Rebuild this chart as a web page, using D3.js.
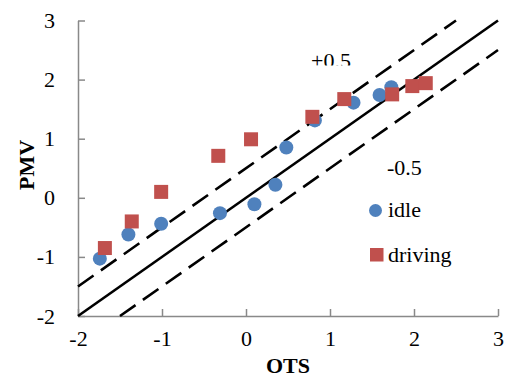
<!DOCTYPE html>
<html><head><meta charset="utf-8">
<script src="https://cdn.jsdelivr.net/npm/d3@7"></script>
<style>body{margin:0;background:#fff}svg{display:block}</style>
</head><body>
<svg id="c" width="507" height="377"></svg>
<script>
const idleX = [-1.74,-1.40,-1.01,-0.31,0.10,0.35,0.48,0.82,1.28,1.59,1.73];
const idleY = [-1.03,-0.62,-0.44,-0.26,-0.11,0.22,0.85,1.31,1.61,1.74,1.87];
const drivingX = [-1.68,-1.36,-1.01,-0.33,0.06,0.79,1.17,1.74,1.98,2.14];
const drivingY = [-0.85,-0.40,0.10,0.71,0.99,1.37,1.67,1.75,1.89,1.94];
const xTicks = [-2,-1,0,1,2,3];
const yTicks = [-2,-1,0,1,2,3];
const refLines = [
  {offset:0, x0:-2, x1:3, dash:null},
  {offset:0.5, x0:-2, x1:2.5, dash:"19,9"},
  {offset:-0.5, x0:-1.5, x1:3, dash:"19,9"}
];
const seriesNames = ["idle","driving"];
const lineLabels = ["+0.5","-0.5"];

const svg = d3.select("#c");
const x = d3.scaleLinear().domain([-2,3]).range([78,498]);
const y = d3.scaleLinear().domain([-2,3]).range([316,20.5]);
const axisColor = "#898989";
const serif = "'Liberation Serif','Times New Roman',serif";
const fmt = d => String(d);

// axes
const gx = svg.append("g").attr("transform","translate(0,316)")
  .call(d3.axisBottom(x).tickValues(xTicks).tickSizeInner(-7).tickSizeOuter(0).tickPadding(20).tickFormat(fmt));
const gy = svg.append("g").attr("transform","translate(78,0)")
  .call(d3.axisLeft(y).tickValues(yTicks).tickSizeInner(-7).tickSizeOuter(0).tickPadding(23).tickFormat(fmt));
[gx,gy].forEach(g=>{
  g.attr("font-family",serif).attr("font-size",22);
  g.select(".domain").attr("stroke",axisColor).attr("stroke-width",1.5);
  g.selectAll(".tick line").attr("stroke",axisColor).attr("stroke-width",1.5);
  g.selectAll("text").attr("font-family",serif).attr("font-size",22).attr("fill","#000");
});
gx.selectAll("text").attr("dy","0.45em");

// reference lines
refLines.forEach(l=>{
  svg.append("line")
    .attr("x1",x(l.x0)).attr("y1",y(l.x0+l.offset))
    .attr("x2",x(l.x1)).attr("y2",y(l.x1+l.offset))
    .attr("stroke","#000").attr("stroke-width",2.6)
    .attr("stroke-dasharray",l.dash);
});

// points
const idle = idleX.map((v,i)=>[v,idleY[i]]);
const driving = drivingX.map((v,i)=>[v,drivingY[i]]);
svg.append("g").selectAll("circle").data(idle).join("circle")
  .attr("cx",d=>x(d[0])).attr("cy",d=>y(d[1])).attr("r",7)
  .attr("fill","#4F81BD");
const sq = 14;
svg.append("g").selectAll("rect").data(driving).join("rect")
  .attr("x",d=>x(d[0])-sq/2).attr("y",d=>y(d[1])-sq/2)
  .attr("width",sq).attr("height",sq).attr("fill","#C0504D");

// line labels
svg.append("clipPath").attr("id","clipP").append("rect")
  .attr("x",300).attr("y",40).attr("width",80).attr("height",25.5);
svg.append("text").attr("x",311).attr("y",68).attr("clip-path","url(#clipP)")
  .attr("font-family",serif).attr("font-size",22).text(lineLabels[0]);
svg.append("text").attr("x",387).attr("y",175)
  .attr("font-family",serif).attr("font-size",22).text(lineLabels[1]);

// legend
svg.append("circle").attr("cx",375.5).attr("cy",210.5).attr("r",6.5).attr("fill","#4F81BD");
svg.append("text").attr("x",388).attr("y",217).attr("font-family",serif).attr("font-size",22).text(seriesNames[0]);
svg.append("rect").attr("x",370).attr("y",248).attr("width",13.5).attr("height",13.5).attr("fill","#C0504D");
svg.append("text").attr("x",388).attr("y",262).attr("font-family",serif).attr("font-size",22).text(seriesNames[1]);

// axis titles
svg.append("text").attr("x",288).attr("y",373).attr("text-anchor","middle")
  .attr("font-family",serif).attr("font-weight","bold").attr("font-size",22).text("OTS");
svg.append("text").attr("transform","translate(34,165) rotate(-90)").attr("text-anchor","middle")
  .attr("font-family",serif).attr("font-weight","bold").attr("font-size",22).text("PMV");
</script>
</body></html>
